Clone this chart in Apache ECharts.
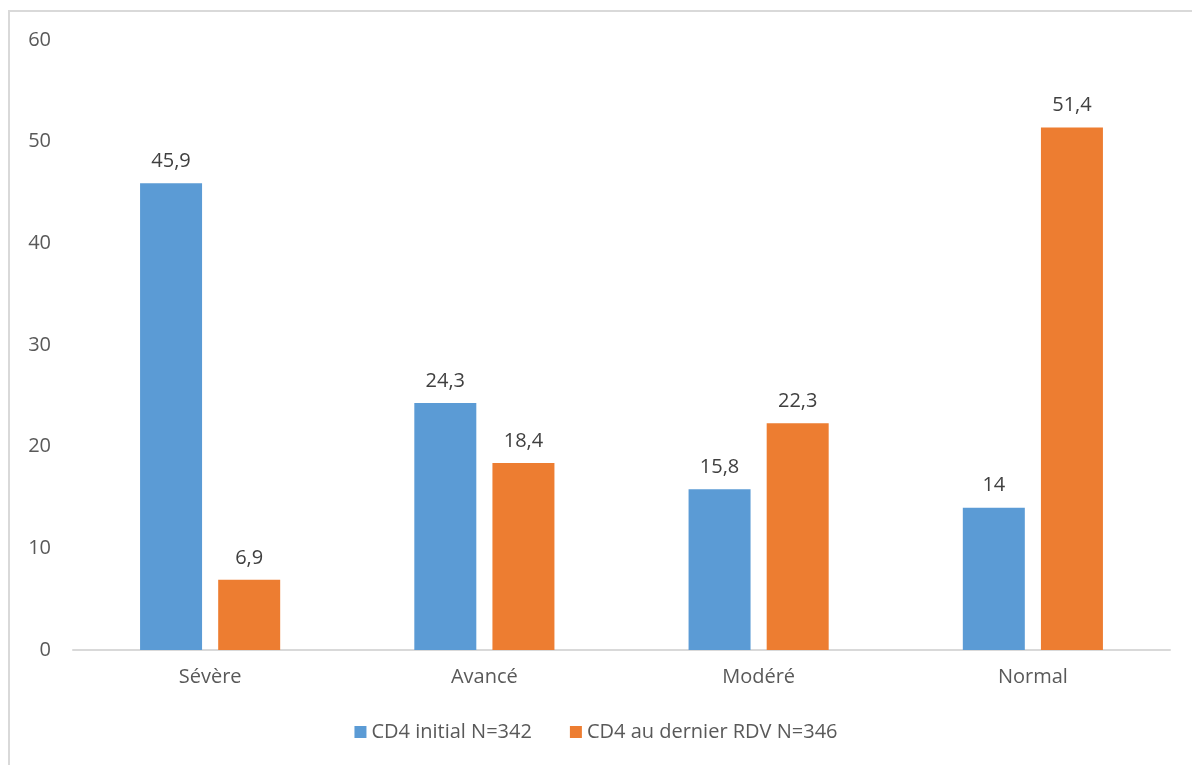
<!DOCTYPE html>
<html>
<head>
<meta charset="utf-8">
<script src="https://cdn.jsdelivr.net/npm/echarts@6/dist/echarts.min.js"></script>
<style>
html, body { margin: 0; padding: 0; background: #fff; }
#main { width: 1192px; height: 765px; }
</style>
</head>
<body>
<div id="main"></div>
<script>
var categories = ['Sévère', 'Avancé', 'Modéré', 'Normal'];
var initialName = 'CD4 initial N=342';
var initialValues = [45.9, 24.3, 15.8, 14];
var lastName = 'CD4 au dernier RDV N=346';
var lastValues = [6.9, 18.4, 22.3, 51.4];

var myChart = echarts.init(document.getElementById('main'));

function fmt(p) {
    return String(p.value).replace('.', ',');
}

var option = {
    backgroundColor: '#fff',
    textStyle: { fontFamily: 'Open Sans' },
    graphic: [{
        type: 'rect',
        shape: { x: 9, y: 11, width: 1300, height: 900 },
        style: { fill: 'none', stroke: '#d9d9d9', lineWidth: 2 },
        silent: true
    }],
    legend: {
        bottom: 18,
        itemWidth: 12,
        itemHeight: 12,
        itemGap: 38,
        icon: 'rect',
        textStyle: { fontSize: 20, color: '#595959', fontFamily: 'Open Sans' },
        data: [initialName, lastName]
    },
    grid: { left: 73, right: 22, top: 40, bottom: 115, containLabel: false },
    xAxis: {
        type: 'category',
        data: categories,
        axisLine: { lineStyle: { color: '#d9d9d9', width: 2 } },
        axisTick: { show: false },
        axisLabel: { fontSize: 20, color: '#595959', margin: 17 }
    },
    yAxis: {
        type: 'value',
        min: 0,
        max: 60,
        interval: 10,
        splitLine: { show: false },
        axisLine: { show: false },
        axisTick: { show: false },
        axisLabel: { fontSize: 20, color: '#595959', margin: 22 }
    },
    series: [
        {
            name: initialName,
            type: 'bar',
            data: initialValues,
            barWidth: 62,
            barGap: '26%',
            itemStyle: { color: '#5b9bd5' },
            label: { show: true, position: 'top', distance: 12, fontSize: 20, color: '#404040', formatter: fmt }
        },
        {
            name: lastName,
            type: 'bar',
            data: lastValues,
            barWidth: 62,
            barGap: '26%',
            itemStyle: { color: '#ed7d31' },
            label: { show: true, position: 'top', distance: 12, fontSize: 20, color: '#404040', formatter: fmt }
        }
    ]
};
myChart.setOption(option);
</script>
</body>
</html>
